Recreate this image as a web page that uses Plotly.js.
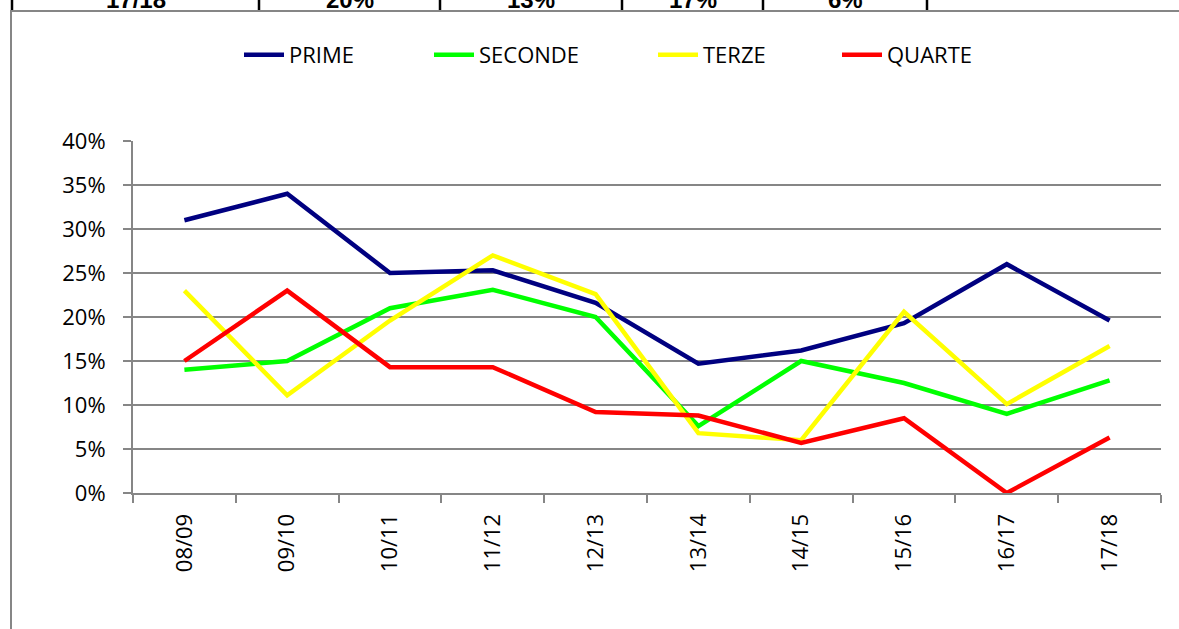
<!DOCTYPE html>
<html>
<head>
<meta charset="utf-8">
<script src="https://cdn.plot.ly/plotly-3.0.1.min.js"></script>
<style>html,body{margin:0;padding:0;background:#fff;}#chart{width:1179px;height:629px;}</style>
</head>
<body>
<div id="chart"></div>
<script>
const seasons = ["08/09","09/10","10/11","11/12","12/13","13/14","14/15","15/16","16/17","17/18"];
const prime   = [0.310,0.340,0.250,0.253,0.216,0.147,0.162,0.193,0.260,0.196];
const seconde = [0.140,0.150,0.210,0.231,0.200,0.076,0.150,0.125,0.090,0.128];
const terze   = [0.230,0.111,0.196,0.270,0.226,0.068,0.060,0.206,0.101,0.167];
const quarte  = [0.150,0.230,0.143,0.143,0.092,0.088,0.057,0.085,0.000,0.063];
const seriesNames = ["PRIME","SECONDE","TERZE","QUARTE"];
const seriesColors = ["#000080","#00FF00","#FFFF00","#FF0000"];
// partially visible table row above the chart
const tableRow = ["17/18","20%","13%","17%","6%"];

const W = 1179, H = 629;
const L = 133, R = 18, T = 141, B = 136;
const pw = W - L - R, ph = H - T - B;
const px = x => (x - L) / pw;
const py = y => (H - B - y) / ph;

const legendIds = ['legend','legend2','legend3','legend4'];
const legendLeft = [239, 429, 653, 837];

const allSeries = [prime, seconde, terze, quarte];
const traces = allSeries.map((vals, i) => ({
  type: 'scatter', mode: 'lines', name: seriesNames[i],
  x: seasons, y: vals,
  line: {color: seriesColors[i], width: 4.5},
  legend: legendIds[i],
  hoverinfo: 'skip'
}));

const shapes = [];
const gray = '#868686';
// frame: top line and left line
shapes.push({type:'line', xref:'paper', yref:'paper', x0:px(10), x1:px(1179), y0:py(11), y1:py(11), line:{color:gray, width:2}});
shapes.push({type:'line', xref:'paper', yref:'paper', x0:px(11), x1:px(11), y0:py(11), y1:py(629), line:{color:gray, width:2}});
// table cell separators
const seps = [12, 259, 440, 622, 763, 927];
seps.forEach(s => shapes.push({type:'line', xref:'paper', yref:'paper', x0:px(s), x1:px(s), y0:py(-2), y1:py(10), line:{color:'#000', width:2.5}}));

const annotations = tableRow.map((t, i) => ({
  text: '<b>' + t + '</b>', xref:'paper', yref:'paper',
  x: px((seps[i] + seps[i+1]) / 2), y: py(0), xanchor:'center', yanchor:'middle',
  showarrow:false, font:{family:'Liberation Sans, Arial', size:24, color:'#000'}
}));

const layout = {
  width: W, height: H,
  margin: {l: L, r: R, t: T, b: B, pad: 0},
  paper_bgcolor: '#fff', plot_bgcolor: '#fff',
  showlegend: true,
  xaxis: {
    type:'category', range:[-0.5, 9.5], showgrid:false, showline:true, linecolor:gray, linewidth:2,
    ticks:'outside', tickson:'boundaries', ticklen:8, tickcolor:gray, tickwidth:2,
    tickangle:-90, tickfont:{family:'Open Sans', size:22, color:'#000'},
    ticklabelstandoff: 10, zeroline:false, fixedrange:true
  },
  yaxis: {
    range:[0, 0.4], dtick:0.05, tickformat:'.0%', showgrid:true, gridcolor:gray, gridwidth:2,
    showline:true, linecolor:gray, linewidth:2, ticks:'outside', ticklen:8, tickcolor:gray, tickwidth:2,
    tickfont:{family:'Open Sans', size:22, color:'#000'}, ticklabelstandoff: 13,
    zeroline:false, fixedrange:true
  },
  shapes: shapes,
  annotations: annotations
};
legendIds.forEach((id, i) => {
  layout[id] = {orientation:'h', x: px(legendLeft[i]), xanchor:'left', y: py(55), yanchor:'middle',
    font:{family:'Open Sans', size:22, color:'#000'}, itemwidth: 40, bgcolor:'rgba(0,0,0,0)',
    borderwidth:0, tracegroupgap:0};
});

Plotly.newPlot('chart', traces, layout, {staticPlot:true, displayModeBar:false});
</script>
</body>
</html>
